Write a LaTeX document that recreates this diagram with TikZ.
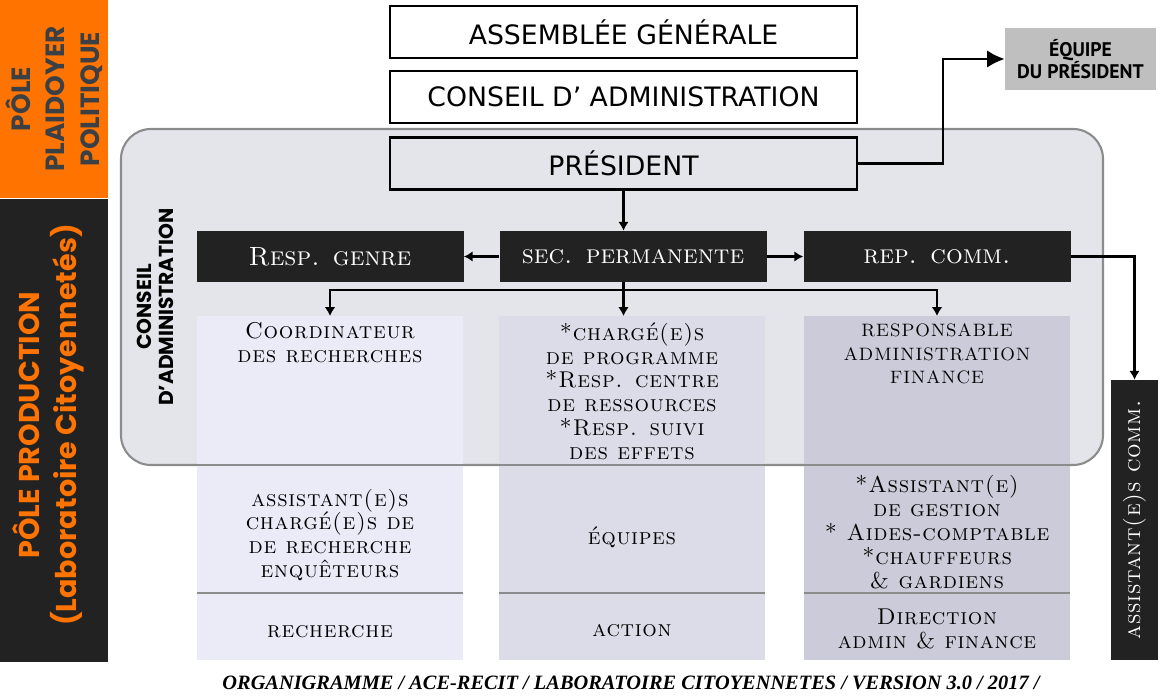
\documentclass[tikz,border=0pt]{standalone}
\usepackage{fontspec}
\usetikzlibrary{arrows.meta}
\newfontfamily\boxfont{DejaVu Sans}
\newfontfamily\polefont{Poppins}
\newfontfamily\teamfont{PT Sans}
\newfontfamily\capfont{lmromancaps10-regular.otf}[LetterSpace=3]
\newfontfamily\titlefont{lmromancaps10-regular.otf}
\newfontfamily\notefont{Liberation Serif}
\definecolor{poleorange}{HTML}{FF7400}
\definecolor{poledark}{HTML}{222222}
\definecolor{poletext}{HTML}{3A4045}
\definecolor{cabg}{HTML}{E4E5EA}
\definecolor{caedge}{HTML}{8C8C8C}
\definecolor{colA}{HTML}{EBEBF8}
\definecolor{colB}{HTML}{DCDCE8}
\definecolor{colC}{HTML}{CBCBD9}
\definecolor{teamgray}{HTML}{BFBFBF}
\begin{document}
\begin{tikzpicture}[
    topbox/.style={draw=black, line width=1.4pt, minimum width=9.34cm, minimum height=1.04cm, font=\boxfont\fontsize{15.2}{17}\selectfont},
    darkbox/.style={fill=poledark, text=white, minimum width=5.34cm, minimum height=1.02cm, font=\titlefont\fontsize{15}{17}\selectfont},
    cell/.style={minimum width=5.32cm, inner sep=0pt, outer sep=0pt},
    celltext/.style={align=center, inner sep=0pt, font=\capfont\fontsize{13}{13.6}\selectfont},
    sep/.style={draw=caedge, line width=1.5pt},
    link/.style={line width=1.5pt, -{Latex[length=5pt,width=6pt]}}]
  \useasboundingbox (0,0) rectangle (23.3,13.9);

  % poles on the left
  \fill[poleorange] (0,9.94) rectangle (2.16,13.9);
  \fill[poledark] (0,0.66) rectangle (2.16,9.92);
  \node[rotate=90, align=center, text=poletext, font=\polefont\bfseries\fontsize{15}{19.5}\selectfont] (plaidoyer) at (1.08,11.92) {PÔLE\\PLAIDOYER\\POLITIQUE};
  \node[rotate=90, align=center, text=poleorange, font=\polefont\bfseries\fontsize{16.3}{21}\selectfont] (production) at (0.96,5.4) {PÔLE PRODUCTION\\(Laboratoire Citoyennetés)};

  % conseil d'administration zone
  \draw[fill=cabg, draw=caedge, line width=1.2pt, rounded corners=0.6cm] (2.42,4.6) rectangle (22.06,11.32);
  \node[rotate=90, align=center, font=\polefont\bfseries\fontsize{11.5}{12.5}\selectfont] (ca) at (3.1,7.76) {CONSEIL\\D’ADMINISTRATION};

  % instances
  \node[topbox, fill=white] (ag) at (12.47,13.26) {ASSEMBLÉE GÉNÉRALE};
  \node[topbox, fill=white] (cadm) at (12.47,11.96) {CONSEIL D’ ADMINISTRATION};
  \node[topbox] (pres) at (12.47,10.63) {PRÉSIDENT};
  \node[fill=teamgray, minimum width=3.02cm, minimum height=1.24cm, align=center, font=\teamfont\bfseries\fontsize{11.2}{12.5}\selectfont] (team) at (21.61,12.72) {ÉQUIPE\\DU PRÉSIDENT};

  % responsables
  \node[darkbox] (genre) at (6.6,8.77) {Resp. genre};
  \node[darkbox] (sec) at (12.66,8.77) {sec. permanente};
  \node[darkbox] (rep) at (18.74,8.77) {rep. comm.};

  % column 1
  \node[cell, fill=colA, minimum height=2.98cm] (coord) at (6.6,6.09) {};
  \node[cell, fill=colA, minimum height=2.56cm] (assist) at (6.6,3.32) {};
  \node[cell, fill=colA, minimum height=1.34cm] (research) at (6.6,1.37) {};
  \node[celltext, anchor=north] (coordtxt) at ([yshift=-0.12cm]coord.north) {Coordinateur\\des recherches};
  \node[celltext] (assisttxt) at ([yshift=-0.12cm]assist.center) {assistant(e)s\\chargé(e)s de\\de recherche\\enquêteurs};
  \node[celltext] (researchtxt) at ([yshift=-0.1cm]research.center) {recherche};

  % column 2
  \node[cell, fill=colB, minimum height=2.98cm] (prog) at (12.64,6.09) {};
  \node[cell, fill=colB, minimum height=2.56cm] (teams) at (12.64,3.32) {};
  \node[cell, fill=colB, minimum height=1.34cm] (action) at (12.64,1.37) {};
  \node[celltext, anchor=north] (progtxt) at ([yshift=-0.12cm]prog.north) {*chargé(e)s\\de programme\\*Resp. centre\\de ressources\\*Resp. suivi\\des effets};
  \node[celltext] (teamstxt) at ([yshift=-0.16cm]teams.center) {équipes};
  \node[celltext] (actiontxt) at ([yshift=-0.08cm]action.center) {action};

  % column 3
  \node[cell, fill=colC, minimum height=2.98cm] (finance) at (18.74,6.09) {};
  \node[cell, fill=colC, minimum height=2.56cm] (gestion) at (18.74,3.32) {};
  \node[cell, fill=colC, minimum height=1.34cm] (daf) at (18.74,1.37) {};
  \node[celltext, anchor=north, font=\capfont\fontsize{10.2}{13.6}\selectfont] (financetxt) at ([yshift=-0.14cm]finance.north) {RESPONSABLE\\ADMINISTRATION\\FINANCE};
  \node[celltext] (gestiontxt) at ([yshift=-0.06cm]gestion.center) {*Assistant(e)\\de gestion\\* Aides-comptable\\*chauffeurs\\\& gardiens};
  \node[celltext] (daftxt) at ([yshift=-0.04cm]daf.center) {Direction\\admin \& finance};

  \draw[sep] (coord.south west) -- (coord.south east);
  \draw[sep] (assist.south west) -- (assist.south east);
  \draw[sep] (prog.south west) -- (prog.south east);
  \draw[sep] (teams.south west) -- (teams.south east);
  \draw[sep] (finance.south west) -- (finance.south east);
  \draw[sep] (gestion.south west) -- (gestion.south east);

  \node[rotate=90, fill=poledark, text=white, minimum width=5.6cm, minimum height=0.94cm, font=\capfont\fontsize{13}{14}\selectfont] (comm) at (22.69,3.5) {assistant(e)s comm.};

  % links
  \coordinate (presbend) at (18.86,10.63);
  \coordinate (bus) at (12.47,8.1);
  \draw[link, -{Latex[length=10pt,width=10pt]}] (pres.east) -- (presbend) |- (team.west);
  \draw[link] (pres.south) -- (pres.south |- sec.north);
  \draw[link] (sec) -- (genre);
  \draw[link] (sec) -- (rep);
  \draw[line width=1.5pt] (bus |- sec.south) -- (bus);
  \draw[link] (bus) -| (coord.north);
  \draw[link] (bus) -| (finance.north);
  \draw[link] (bus) -- (bus |- prog.north);
  \draw[link] (rep.east) -| (comm.east);

  \node[font=\notefont\bfseries\itshape\fontsize{11.6}{13}\selectfont] (caption) at (12.62,0.24) {ORGANIGRAMME / ACE-RECIT / LABORATOIRE CITOYENNETES / VERSION 3.0 / 2017 /};
\end{tikzpicture}
\end{document}
